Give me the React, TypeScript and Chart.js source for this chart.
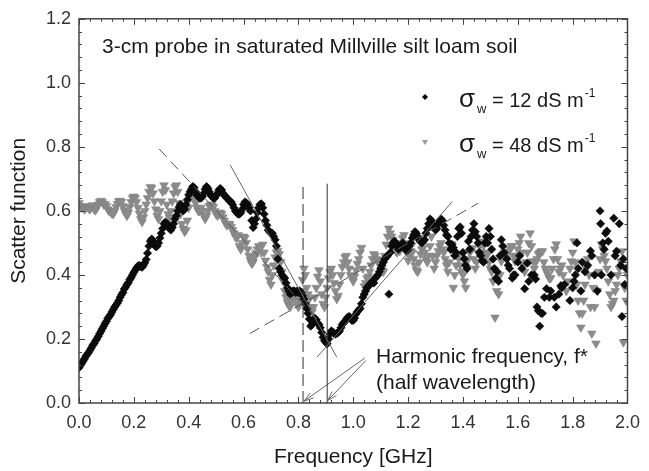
import React, { useEffect, useRef } from 'react';
import { Chart, registerables } from 'chart.js';

Chart.register(...registerables);

const FONT = 'Arial, "Liberation Sans", sans-serif';

// ---- sigma_w = 12 dS/m (black diamonds): [frequency GHz, scatter function]
const sw12Rise: number[][] = [
  [0.000, 0.110], [0.005, 0.118], [0.010, 0.124], [0.015, 0.131], [0.020, 0.138], [0.025, 0.146],
  [0.030, 0.152], [0.035, 0.158], [0.040, 0.165], [0.045, 0.172], [0.050, 0.180], [0.055, 0.186],
  [0.060, 0.194], [0.065, 0.200], [0.070, 0.208], [0.075, 0.216], [0.080, 0.224], [0.085, 0.232],
  [0.090, 0.240], [0.095, 0.248], [0.100, 0.255], [0.105, 0.264], [0.110, 0.270], [0.115, 0.276],
  [0.120, 0.284], [0.125, 0.292], [0.130, 0.300], [0.135, 0.306], [0.140, 0.312], [0.145, 0.320],
  [0.150, 0.330], [0.155, 0.338], [0.160, 0.345], [0.165, 0.356], [0.170, 0.362], [0.175, 0.370],
  [0.180, 0.376], [0.185, 0.385], [0.190, 0.392], [0.195, 0.400], [0.200, 0.408], [0.205, 0.415],
  [0.210, 0.422], [0.215, 0.428], [0.220, 0.430], [0.225, 0.426], [0.230, 0.424], [0.235, 0.430],
  [0.240, 0.438], [0.245, 0.448], [0.250, 0.468], [0.255, 0.490], [0.260, 0.505], [0.265, 0.512],
  [0.270, 0.506], [0.275, 0.495], [0.280, 0.488], [0.285, 0.490], [0.290, 0.500], [0.295, 0.515],
  [0.300, 0.530],
];
const sw12Hump: number[][] = [
  [0.305, 0.545], [0.310, 0.560], [0.315, 0.565], [0.320, 0.560], [0.325, 0.552], [0.330, 0.545],
  [0.335, 0.540], [0.340, 0.548], [0.345, 0.560], [0.350, 0.575], [0.355, 0.585], [0.360, 0.600],
  [0.365, 0.612], [0.370, 0.620], [0.375, 0.610], [0.380, 0.600], [0.385, 0.605], [0.390, 0.620],
  [0.395, 0.635], [0.400, 0.650], [0.405, 0.660], [0.410, 0.668], [0.415, 0.676], [0.420, 0.672],
  [0.425, 0.660], [0.430, 0.650], [0.435, 0.645], [0.440, 0.640], [0.445, 0.640], [0.450, 0.645],
  [0.455, 0.655], [0.460, 0.668], [0.465, 0.676], [0.470, 0.670], [0.475, 0.660], [0.480, 0.650],
  [0.485, 0.645], [0.490, 0.640], [0.495, 0.640], [0.500, 0.648], [0.505, 0.655], [0.510, 0.665],
  [0.515, 0.670], [0.520, 0.665], [0.525, 0.655], [0.530, 0.648], [0.535, 0.645], [0.540, 0.640],
  [0.545, 0.635], [0.550, 0.630], [0.555, 0.628], [0.560, 0.620], [0.565, 0.610], [0.570, 0.600],
  [0.575, 0.595], [0.580, 0.590], [0.585, 0.590], [0.590, 0.595], [0.595, 0.605], [0.600, 0.620],
  [0.605, 0.628], [0.610, 0.625], [0.615, 0.620], [0.620, 0.610], [0.625, 0.600], [0.630, 0.570],
  [0.635, 0.548], [0.640, 0.560], [0.645, 0.575], [0.650, 0.595], [0.655, 0.610], [0.660, 0.620],
  [0.665, 0.622], [0.670, 0.610], [0.675, 0.590], [0.680, 0.570], [0.685, 0.555], [0.690, 0.540],
  [0.695, 0.535], [0.700, 0.530], [0.705, 0.530],
];
const sw12Dip: number[][] = [
  [0.710, 0.520], [0.715, 0.510], [0.720, 0.490], [0.725, 0.450], [0.730, 0.420], [0.735, 0.410],
  [0.740, 0.400], [0.745, 0.395], [0.750, 0.390], [0.755, 0.375], [0.760, 0.360], [0.765, 0.350],
  [0.770, 0.340], [0.775, 0.345], [0.780, 0.350], [0.785, 0.350], [0.790, 0.345], [0.795, 0.350],
  [0.800, 0.345], [0.805, 0.350], [0.810, 0.345], [0.815, 0.335], [0.820, 0.325], [0.825, 0.310],
  [0.830, 0.295], [0.835, 0.280], [0.840, 0.262], [0.845, 0.240], [0.850, 0.245], [0.855, 0.258],
  [0.860, 0.265], [0.865, 0.260], [0.870, 0.250], [0.875, 0.245], [0.880, 0.235], [0.885, 0.220],
  [0.890, 0.205], [0.895, 0.195], [0.900, 0.190], [0.905, 0.185], [0.910, 0.200], [0.915, 0.215],
  [0.920, 0.225], [0.925, 0.222], [0.930, 0.218], [0.935, 0.215], [0.940, 0.218], [0.945, 0.220],
  [0.950, 0.225], [0.955, 0.235], [0.960, 0.245], [0.965, 0.250], [0.970, 0.255], [0.975, 0.262],
  [0.980, 0.268], [0.985, 0.270], [0.990, 0.265], [0.995, 0.258], [1.000, 0.258], [1.005, 0.265],
  [1.010, 0.278], [1.015, 0.285], [1.020, 0.290], [1.025, 0.295], [1.030, 0.310], [1.035, 0.330],
  [1.040, 0.340], [1.045, 0.350], [1.050, 0.360], [1.055, 0.365], [1.060, 0.370], [1.065, 0.375],
  [1.070, 0.380], [1.075, 0.375], [1.080, 0.390], [1.085, 0.395], [1.090, 0.400], [1.095, 0.410],
  [1.100, 0.420],
];
const sw12Climb: number[][] = [
  [1.105, 0.430], [1.110, 0.440], [1.115, 0.450], [1.120, 0.455], [1.125, 0.460], [1.130, 0.340],
  [1.135, 0.470], [1.140, 0.490], [1.145, 0.500], [1.150, 0.505], [1.155, 0.500], [1.160, 0.490],
  [1.165, 0.480], [1.170, 0.485], [1.175, 0.490], [1.180, 0.500], [1.185, 0.490], [1.190, 0.480],
  [1.195, 0.475], [1.200, 0.480], [1.205, 0.490], [1.210, 0.500], [1.215, 0.515], [1.220, 0.525],
  [1.225, 0.535], [1.230, 0.530], [1.235, 0.520], [1.240, 0.510], [1.245, 0.505], [1.250, 0.500],
  [1.255, 0.505], [1.260, 0.510], [1.265, 0.530], [1.270, 0.545], [1.275, 0.560], [1.280, 0.575],
  [1.285, 0.570], [1.290, 0.560], [1.295, 0.550], [1.300, 0.540], [1.305, 0.545], [1.310, 0.560],
  [1.315, 0.570], [1.320, 0.575], [1.325, 0.570], [1.330, 0.555], [1.335, 0.540], [1.340, 0.525],
];
const sw12Tail: number[][] = [
  [1.345, 0.520], [1.350, 0.500], [1.355, 0.480], [1.360, 0.495], [1.365, 0.485], [1.370, 0.460],
  [1.375, 0.470], [1.380, 0.520], [1.385, 0.545], [1.390, 0.550], [1.395, 0.530], [1.400, 0.470],
  [1.405, 0.450], [1.410, 0.430], [1.415, 0.420], [1.420, 0.505], [1.425, 0.480], [1.430, 0.520],
  [1.435, 0.540], [1.440, 0.560], [1.445, 0.535], [1.450, 0.520], [1.455, 0.500], [1.460, 0.470],
  [1.465, 0.460], [1.470, 0.445], [1.475, 0.440], [1.480, 0.500], [1.485, 0.520], [1.490, 0.500],
  [1.495, 0.545], [1.500, 0.520], [1.505, 0.480], [1.510, 0.450], [1.515, 0.420], [1.520, 0.390],
  [1.525, 0.410], [1.530, 0.380], [1.535, 0.460], [1.540, 0.510], [1.545, 0.490], [1.550, 0.470],
  [1.560, 0.450], [1.565, 0.430], [1.570, 0.420], [1.580, 0.390], [1.585, 0.400], [1.590, 0.400],
  [1.600, 0.440], [1.607, 0.460], [1.615, 0.420], [1.625, 0.357], [1.635, 0.437], [1.640, 0.380],
  [1.650, 0.400], [1.660, 0.400], [1.665, 0.387], [1.670, 0.300], [1.675, 0.288], [1.680, 0.240],
  [1.685, 0.280], [1.690, 0.280], [1.697, 0.330], [1.705, 0.357], [1.715, 0.330], [1.720, 0.350],
  [1.733, 0.330], [1.740, 0.300], [1.750, 0.340], [1.757, 0.366], [1.760, 0.360], [1.770, 0.370],
  [1.790, 0.320], [1.800, 0.360], [1.805, 0.380], [1.810, 0.400], [1.816, 0.500], [1.820, 0.420],
  [1.830, 0.350], [1.835, 0.440], [1.845, 0.410], [1.855, 0.430], [1.865, 0.475], [1.870, 0.460],
  [1.880, 0.400], [1.890, 0.350], [1.900, 0.600], [1.902, 0.560], [1.905, 0.400], [1.910, 0.500],
  [1.915, 0.480], [1.920, 0.530], [1.925, 0.537], [1.930, 0.505], [1.940, 0.400], [1.950, 0.577],
  [1.955, 0.460], [1.960, 0.474], [1.970, 0.560], [1.975, 0.430], [1.980, 0.270], [1.985, 0.450],
  [1.990, 0.370], [1.995, 0.420],
];

// ---- sigma_w = 48 dS/m (grey triangles): [frequency GHz, scatter function]
const sw48Flat: number[][] = [
  [0.000, 0.625], [0.005, 0.615], [0.010, 0.610], [0.015, 0.612], [0.020, 0.605], [0.025, 0.610],
  [0.030, 0.615], [0.035, 0.608], [0.040, 0.605], [0.045, 0.612], [0.050, 0.618], [0.055, 0.605],
  [0.060, 0.602], [0.065, 0.610], [0.070, 0.620], [0.075, 0.628], [0.080, 0.632], [0.085, 0.628],
  [0.090, 0.620], [0.095, 0.622], [0.100, 0.615], [0.105, 0.605], [0.110, 0.600], [0.115, 0.598],
  [0.120, 0.592], [0.125, 0.590], [0.130, 0.600], [0.135, 0.612], [0.140, 0.622], [0.145, 0.630],
  [0.150, 0.632], [0.155, 0.628], [0.160, 0.615], [0.165, 0.602], [0.170, 0.592], [0.175, 0.585],
  [0.180, 0.595], [0.185, 0.612], [0.190, 0.628], [0.195, 0.640], [0.200, 0.645], [0.205, 0.640],
  [0.210, 0.628], [0.215, 0.610], [0.220, 0.592], [0.225, 0.575], [0.230, 0.565], [0.235, 0.580],
  [0.240, 0.600], [0.245, 0.620], [0.250, 0.640], [0.255, 0.660], [0.260, 0.675], [0.265, 0.672],
  [0.270, 0.655], [0.275, 0.630], [0.280, 0.605], [0.285, 0.585], [0.290, 0.575], [0.295, 0.600],
  [0.300, 0.630],
];
const sw48Hump: number[][] = [
  [0.305, 0.660], [0.310, 0.680], [0.315, 0.665], [0.320, 0.620], [0.325, 0.590], [0.330, 0.578],
  [0.335, 0.600], [0.340, 0.630], [0.345, 0.655], [0.350, 0.675], [0.355, 0.680], [0.360, 0.660],
  [0.365, 0.625], [0.370, 0.590], [0.375, 0.560], [0.380, 0.545], [0.385, 0.535], [0.390, 0.540],
  [0.395, 0.570], [0.400, 0.610], [0.405, 0.640], [0.410, 0.655], [0.415, 0.650], [0.420, 0.640],
  [0.425, 0.625], [0.430, 0.610], [0.435, 0.600], [0.440, 0.600], [0.445, 0.610], [0.450, 0.600],
  [0.455, 0.585], [0.460, 0.575], [0.465, 0.585], [0.470, 0.600], [0.475, 0.615], [0.480, 0.620],
  [0.485, 0.618], [0.490, 0.612], [0.495, 0.600], [0.500, 0.590], [0.505, 0.585], [0.510, 0.590],
  [0.515, 0.595], [0.520, 0.590], [0.525, 0.580], [0.530, 0.570], [0.535, 0.560], [0.540, 0.555],
  [0.545, 0.560], [0.550, 0.558], [0.555, 0.550], [0.560, 0.540], [0.565, 0.530], [0.570, 0.520],
  [0.575, 0.515], [0.580, 0.525], [0.585, 0.490], [0.590, 0.480], [0.595, 0.500], [0.600, 0.520],
];
const sw48Dip: number[][] = [
  [0.605, 0.515], [0.610, 0.500], [0.615, 0.480], [0.620, 0.460], [0.625, 0.445], [0.630, 0.435],
  [0.635, 0.440], [0.640, 0.455], [0.645, 0.465], [0.650, 0.480], [0.655, 0.490], [0.660, 0.485],
  [0.665, 0.470], [0.670, 0.495], [0.675, 0.470], [0.680, 0.445], [0.685, 0.425], [0.690, 0.410],
  [0.695, 0.385], [0.700, 0.370], [0.705, 0.400], [0.710, 0.430], [0.715, 0.455], [0.720, 0.470],
  [0.725, 0.475], [0.730, 0.465], [0.735, 0.440], [0.740, 0.410], [0.745, 0.380], [0.750, 0.350],
  [0.755, 0.330], [0.760, 0.315], [0.765, 0.305], [0.770, 0.300], [0.775, 0.320], [0.780, 0.340],
  [0.785, 0.340], [0.790, 0.330], [0.795, 0.310], [0.800, 0.300], [0.805, 0.320], [0.810, 0.350],
  [0.815, 0.385], [0.820, 0.420], [0.825, 0.400], [0.830, 0.360], [0.835, 0.340], [0.840, 0.325],
  [0.845, 0.300], [0.850, 0.285], [0.855, 0.300], [0.860, 0.330], [0.865, 0.360], [0.870, 0.395],
  [0.875, 0.415], [0.880, 0.380], [0.885, 0.340], [0.890, 0.310], [0.895, 0.300], [0.900, 0.330],
  [0.905, 0.360], [0.910, 0.390], [0.915, 0.410], [0.920, 0.420], [0.925, 0.400], [0.930, 0.375],
  [0.935, 0.350], [0.940, 0.325], [0.945, 0.335], [0.950, 0.370], [0.955, 0.400], [0.960, 0.425],
  [0.965, 0.440], [0.970, 0.455], [0.975, 0.460], [0.980, 0.440], [0.985, 0.420], [0.990, 0.400],
  [0.995, 0.390], [1.000, 0.380], [1.005, 0.395], [1.010, 0.415], [1.015, 0.435], [1.020, 0.450],
  [1.025, 0.470], [1.030, 0.485], [1.035, 0.420], [1.040, 0.365], [1.045, 0.375], [1.050, 0.390],
  [1.055, 0.395], [1.060, 0.410], [1.065, 0.430], [1.070, 0.450], [1.075, 0.465], [1.080, 0.460],
  [1.085, 0.450], [1.090, 0.440], [1.095, 0.445], [1.100, 0.430],
];
const sw48Climb: number[][] = [
  [1.105, 0.415], [1.110, 0.410], [1.115, 0.460], [1.120, 0.495], [1.125, 0.520], [1.130, 0.545],
  [1.135, 0.530], [1.140, 0.520], [1.145, 0.510], [1.150, 0.490], [1.155, 0.475], [1.160, 0.470],
  [1.165, 0.480], [1.170, 0.475], [1.175, 0.500], [1.180, 0.515], [1.185, 0.525], [1.190, 0.500],
  [1.195, 0.470], [1.200, 0.445], [1.205, 0.460], [1.210, 0.475], [1.215, 0.470], [1.220, 0.450],
  [1.225, 0.430], [1.230, 0.415], [1.235, 0.410], [1.240, 0.440], [1.245, 0.465], [1.250, 0.480],
  [1.255, 0.485], [1.260, 0.470], [1.265, 0.450], [1.270, 0.440], [1.275, 0.460], [1.280, 0.490],
  [1.285, 0.520], [1.290, 0.460], [1.295, 0.420], [1.300, 0.440], [1.305, 0.460], [1.310, 0.475],
  [1.315, 0.490], [1.320, 0.500], [1.325, 0.480], [1.330, 0.470], [1.335, 0.450], [1.340, 0.430],
  [1.345, 0.410],
];
const sw48Tail: number[][] = [
  [1.350, 0.440], [1.355, 0.480], [1.360, 0.496], [1.365, 0.360], [1.370, 0.400], [1.375, 0.430],
  [1.380, 0.460], [1.385, 0.450], [1.390, 0.430], [1.395, 0.410], [1.400, 0.400], [1.405, 0.380],
  [1.410, 0.360], [1.415, 0.420], [1.420, 0.450], [1.425, 0.470], [1.430, 0.480], [1.435, 0.484],
  [1.440, 0.450], [1.445, 0.420], [1.450, 0.440], [1.455, 0.470], [1.460, 0.490], [1.465, 0.500],
  [1.470, 0.505], [1.475, 0.490], [1.480, 0.470], [1.485, 0.460], [1.490, 0.465], [1.495, 0.440],
  [1.500, 0.420], [1.505, 0.410], [1.510, 0.380], [1.517, 0.267], [1.523, 0.350], [1.530, 0.340],
  [1.535, 0.400], [1.540, 0.443], [1.545, 0.460], [1.550, 0.470], [1.555, 0.460], [1.560, 0.450],
  [1.565, 0.470], [1.570, 0.480], [1.575, 0.490], [1.580, 0.490], [1.585, 0.460], [1.590, 0.443],
  [1.595, 0.460], [1.600, 0.480], [1.605, 0.500], [1.610, 0.520], [1.615, 0.470], [1.620, 0.430],
  [1.625, 0.410], [1.630, 0.440], [1.635, 0.470], [1.640, 0.500], [1.645, 0.530], [1.650, 0.490],
  [1.655, 0.443], [1.660, 0.420], [1.665, 0.440], [1.670, 0.450], [1.675, 0.465], [1.680, 0.470],
  [1.685, 0.474], [1.690, 0.474], [1.695, 0.440], [1.700, 0.420], [1.705, 0.410], [1.710, 0.400],
  [1.715, 0.390], [1.720, 0.390], [1.725, 0.420], [1.730, 0.450], [1.735, 0.480], [1.740, 0.496],
  [1.745, 0.450], [1.750, 0.410], [1.755, 0.420], [1.760, 0.430], [1.765, 0.400], [1.770, 0.370],
  [1.777, 0.350], [1.783, 0.380], [1.790, 0.420], [1.795, 0.443], [1.800, 0.470], [1.805, 0.505],
  [1.810, 0.440], [1.815, 0.370], [1.820, 0.320], [1.825, 0.280], [1.830, 0.236], [1.835, 0.280],
  [1.840, 0.320], [1.845, 0.370], [1.850, 0.420], [1.855, 0.450], [1.860, 0.400], [1.865, 0.300],
  [1.870, 0.217], [1.875, 0.360], [1.880, 0.300], [1.885, 0.186], [1.890, 0.350], [1.895, 0.410],
  [1.900, 0.450], [1.905, 0.496], [1.910, 0.480], [1.915, 0.460], [1.920, 0.443], [1.925, 0.420],
  [1.930, 0.380], [1.935, 0.340], [1.940, 0.300], [1.945, 0.310], [1.950, 0.320], [1.955, 0.350],
  [1.960, 0.370], [1.965, 0.400], [1.970, 0.420], [1.975, 0.443], [1.980, 0.474], [1.985, 0.190],
  [1.990, 0.360], [1.995, 0.320], [2.000, 0.400],
];

// ---- fitted lines and markers of the harmonic frequency
const dashedFall = [[0.292, 0.794], [0.88, 0.25]];
const dashedRise = [[0.623, 0.217], [1.456, 0.624]];
const solidFall = [[0.551, 0.744], [0.94, 0.143]];
const solidRise = [[0.868, 0.143], [1.361, 0.629]];
const dashedVertical = [[0.817, 0], [0.817, 0.685]];
const solidVertical = [[0.905, 0], [0.905, 0.685]];
const arrowLeft = [[1.0425, 0.1405], [0.8205, 0.006]];
const arrowRight = [[1.0465, 0.133], [0.907, 0.008]];

// ---- axes
const xMin = 0, xMax = 2, yMin = 0, yMax = 1.2;
const majorStep = 0.2;
const minorStep = 0.04;

const toXY = (arr: number[][]) => arr.map(([x, y]) => ({ x, y }));

const lineDs = (pts: number[][], dash: number[], color: string) => ({
  data: toXY(pts),
  showLine: true,
  borderColor: color,
  borderWidth: 1,
  borderDash: dash,
  pointRadius: 0,
  pointHoverRadius: 0,
  fill: false,
  order: 0,
});

const decor = {
  id: 'decor',
  afterDatasetsDraw(chart: any) {
    const { ctx, scales } = chart;
    const xs = scales.x, ys = scales.y;
    ctx.save();
    ctx.strokeStyle = '#666';
    ctx.lineWidth = 1;
    for (const arrow of [arrowLeft, arrowRight]) {
      const x0 = xs.getPixelForValue(arrow[0][0]);
      const y0 = ys.getPixelForValue(arrow[0][1]);
      const x1 = xs.getPixelForValue(arrow[1][0]);
      const y1 = ys.getPixelForValue(arrow[1][1]);
      const ang = Math.atan2(y1 - y0, x1 - x0);
      const L = 10;
      for (const d of [-0.3, 0.3]) {
        ctx.beginPath();
        ctx.moveTo(x1, y1);
        ctx.lineTo(x1 - L * Math.cos(ang + d), y1 - L * Math.sin(ang + d));
        ctx.stroke();
      }
    }
    ctx.restore();
  },
  afterDraw(chart: any) {
    const { ctx, chartArea: a, scales } = chart;
    const xs = scales.x, ys = scales.y;
    ctx.save();
    // frame
    ctx.strokeStyle = '#444';
    ctx.lineWidth = 1.5;
    ctx.strokeRect(a.left, a.top, a.right - a.left, a.bottom - a.top);
    // inward ticks on all four sides
    ctx.lineWidth = 1;
    ctx.beginPath();
    const nx = Math.round((xMax - xMin) / minorStep);
    for (let i = 0; i <= nx; i++) {
      const px = Math.round(xs.getPixelForValue(xMin + i * minorStep)) + 0.5;
      const len = i % 5 === 0 ? 6 : 3;
      ctx.moveTo(px, a.bottom); ctx.lineTo(px, a.bottom - len);
      ctx.moveTo(px, a.top); ctx.lineTo(px, a.top + len);
    }
    const ny = Math.round((yMax - yMin) / minorStep);
    for (let i = 0; i <= ny; i++) {
      const py = Math.round(ys.getPixelForValue(yMin + i * minorStep)) + 0.5;
      const len = i % 5 === 0 ? 6 : 3;
      ctx.moveTo(a.left, py); ctx.lineTo(a.left + len, py);
      ctx.moveTo(a.right, py); ctx.lineTo(a.right - len, py);
    }
    ctx.stroke();

    // annotation texts
    ctx.fillStyle = '#1a1a1a';
    ctx.textBaseline = 'alphabetic';
    ctx.textAlign = 'left';
    ctx.font = `21px ${FONT}`;
    ctx.fillText('3-cm probe in saturated Millville silt loam soil', 102, 53);
    ctx.fillText('Harmonic frequency, f*', 376, 363);
    ctx.fillText('(half wavelength)', 376, 389);

    // legend
    const rows = [
      { y: 107, label: '12', kind: 'diamond' },
      { y: 152, label: '48', kind: 'triangle' },
    ];
    for (const r of rows) {
      const my = r.y - 10;
      if (r.kind === 'diamond') {
        ctx.fillStyle = '#000';
        ctx.beginPath();
        ctx.moveTo(425, my - 3); ctx.lineTo(428, my); ctx.lineTo(425, my + 3); ctx.lineTo(422, my);
        ctx.closePath(); ctx.fill();
      } else {
        ctx.fillStyle = '#999';
        ctx.beginPath();
        ctx.moveTo(422, my - 2); ctx.lineTo(428, my - 2); ctx.lineTo(425, my + 3);
        ctx.closePath(); ctx.fill();
      }
      ctx.fillStyle = '#1a1a1a';
      ctx.font = `26px ${FONT}`;
      ctx.fillText('σ', 459, r.y);
      ctx.font = `13px ${FONT}`;
      ctx.fillText('w', 477, r.y + 6);
      ctx.font = `20px ${FONT}`;
      const main = `= ${r.label} dS m`;
      ctx.fillText(main, 492, r.y);
      const w = ctx.measureText(main).width;
      ctx.font = `12px ${FONT}`;
      ctx.fillText('-1', 492 + w + 1, r.y - 10);
    }
    ctx.restore();
  },
};

export default function App() {
  const ref = useRef<HTMLCanvasElement | null>(null);
  useEffect(() => {
    document.body.style.margin = '0';
    const canvas = ref.current;
    if (!canvas) return;
    const sw12 = [...sw12Rise, ...sw12Hump, ...sw12Dip, ...sw12Climb, ...sw12Tail];
    const sw48 = [...sw48Flat, ...sw48Hump, ...sw48Dip, ...sw48Climb, ...sw48Tail];
    const chart = new Chart(canvas, {
      type: 'scatter',
      data: {
        datasets: [
          lineDs(dashedFall, [11, 6], '#555'),
          lineDs(dashedRise, [11, 6], '#555'),
          lineDs(solidFall, [], '#666'),
          lineDs(solidRise, [], '#666'),
          lineDs(dashedVertical, [12, 5], '#333'),
          lineDs(solidVertical, [], '#333'),
          lineDs(arrowLeft, [], '#666'),
          lineDs(arrowRight, [], '#666'),
          {
            label: 'σw = 12 dS m-1',
            data: toXY(sw12),
            pointStyle: 'rectRot',
            pointRadius: 4.2,
            pointHoverRadius: 4.2,
            backgroundColor: '#0d0d0d',
            borderColor: '#000',
            borderWidth: 0.5,
            order: 1,
          },
          {
            label: 'σw = 48 dS m-1',
            data: toXY(sw48),
            pointStyle: 'triangle',
            rotation: 180,
            pointRadius: 5,
            pointHoverRadius: 5,
            backgroundColor: '#8c8c8c',
            borderColor: '#7d7d7d',
            borderWidth: 0.5,
            order: 2,
          },
        ] as any,
      },
      options: {
        animation: false,
        responsive: false,
        events: [],
        layout: { padding: { top: 16, right: 15, left: 0, bottom: 0 } },
        plugins: { legend: { display: false }, tooltip: { enabled: false } },
        scales: {
          x: {
            type: 'linear',
            min: xMin,
            max: xMax,
            afterFit: (s: any) => { s.height = 68; },
            grid: { display: false, drawTicks: false },
            border: { display: false },
            ticks: {
              stepSize: majorStep,
              padding: 9,
              autoSkip: false,
              maxRotation: 0,
              color: '#333',
              font: { family: FONT, size: 18 },
              callback: (v: any) => Number(v).toFixed(1),
            },
            title: {
              display: true,
              text: 'Frequency [GHz]',
              color: '#1a1a1a',
              font: { family: FONT, size: 21 },
              padding: { top: 0, bottom: 1 },
            },
          },
          y: {
            type: 'linear',
            min: yMin,
            max: yMax,
            afterFit: (s: any) => { s.width = 79; },
            grid: { display: false, drawTicks: false },
            border: { display: false },
            ticks: {
              stepSize: majorStep,
              padding: 8,
              autoSkip: false,
              color: '#333',
              font: { family: FONT, size: 18 },
              callback: (v: any) => Number(v).toFixed(1),
            },
            title: {
              display: true,
              text: 'Scatter function',
              color: '#1a1a1a',
              font: { family: FONT, size: 21 },
              padding: { top: 7, bottom: 0 },
            },
          },
        },
      } as any,
      plugins: [decor],
    });
    return () => chart.destroy();
  }, []);
  return (
    <div style={{ width: 649, height: 471 }}>
      <canvas ref={ref} width={649} height={471} />
    </div>
  );
}
